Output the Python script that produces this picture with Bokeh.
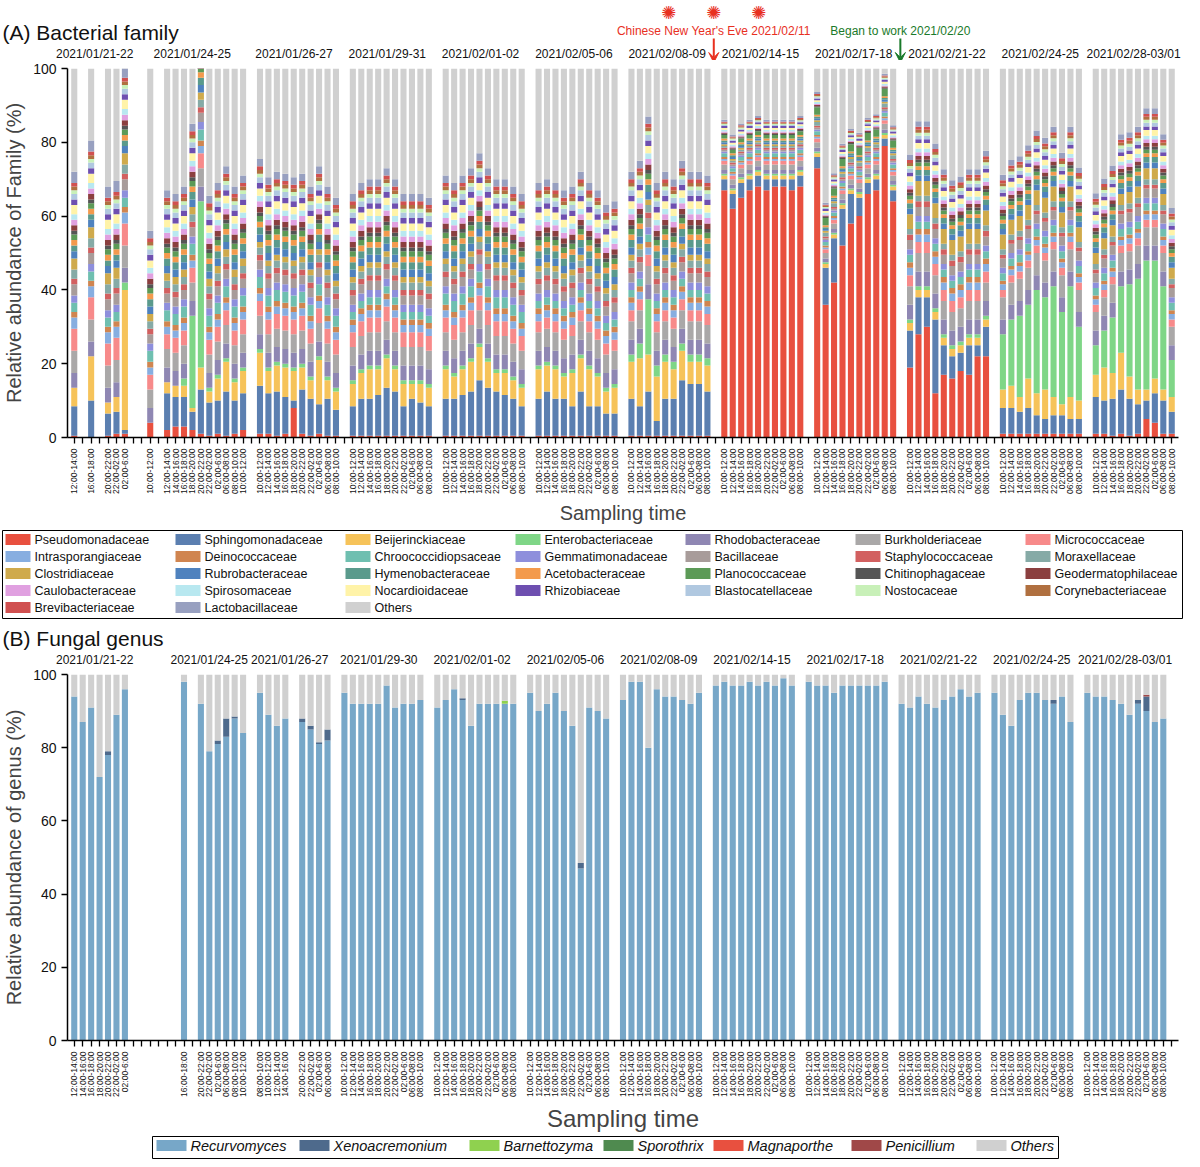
import math
from bokeh.plotting import figure
from bokeh.layouts import column, row
from bokeh.models import (ColumnDataSource, FixedTicker, Arrow, VeeHead, Range1d)
from bokeh.core.properties import value
from bokeh.embed import file_html
from bokeh.resources import INLINE

FONT = "Liberation Sans"

S10 = ["10:00-12:00", "12:00-14:00", "14:00-16:00", "16:00-18:00", "18:00-20:00",
       "20:00-22:00", "22:00-02:00", "02:00-6:00", "06:00-08:00", "08:00-10:00"]

# ---------------- Panel A: bacterial family ----------------
a_dates = ["2021/01/21-22", "2021/01/24-25", "2021/01/26-27", "2021/01/29-31", "2021/02/01-02",
           "2021/02/05-06", "2021/02/08-09", "2021/02/14-15", "2021/02/17-18", "2021/02/21-22",
           "2021/02/24-25", "2021/02/28-03/01"]
# slot labels per group, "" = empty slot (tick only)
a_slots = [["12:00-14:00", "", "16:00-18:00", "", "20:00-22:00", "22:00-02:00", "02:00-6:00", "", ""],
           ["10:00-12:00", ""] + S10[1:] + ["10:00-12:00"]] + [[""] + S10 for _ in range(10)]

pseudo = [[0.5, 0, 0.5, 1, 1],
          [4, 2, 3, 3, 2, 1, 0.5, 1, 0.5, 1, 2],
          [1, 1, 0.5, 1, 8, 1, 0.5, 1, 0.5, 0.5],
          [0.5, 0.5, 0.5, 0.5, 0.5, 0.5, 0.5, 0.5, 0.5, 0.5],
          [0.5, 0.5, 0.5, 0.5, 0.5, 0.5, 0.5, 0.5, 0.5, 0.5],
          [0.5, 0.5, 0.5, 0.5, 0.5, 0.5, 0.5, 0.5, 0.5, 0.5],
          [0.5, 0.5, 0.5, 0.5, 0.5, 0.5, 0.5, 0.5, 0.5, 0.5],
          [67, 62, 65, 67, 68, 67, 68, 68, 67, 68],
          [73, 36, 42, 52, 58, 60, 66, 67, 79, 64],
          [19, 28, 30, 12, 17, 16, 18, 17, 22, 22],
          [1, 1, 1, 1, 1, 1, 1, 1, 1, 1],
          [1, 1, 0.5, 1, 0.5, 1, 5, 4, 1, 1]]
sphingo = [[8, 10, 6, 6, 1],
           [0, 10, 8, 8, 5, 12, 9, 9, 12, 9, 10],
           [13, 11, 12, 10, 2, 12, 10, 8, 10, 7],
           [8, 10, 10, 11, 13, 12, 8, 10, 9, 8],
           [10, 10, 11, 12, 15, 13, 12, 11, 10, 8],
           [10, 12, 10, 10, 8, 12, 8, 8, 6, 6],
           [10, 8, 12, 4, 10, 10, 15, 14, 14, 12],
           [3, 4, 4, 3, 3, 3, 2, 2, 3, 3],
           [3, 10, 12, 10, 8, 5, 3, 3, 2, 3],
           [10, 10, 8, 20, 8, 6, 5, 8, 3, 8],
           [7, 7, 6, 7, 5, 4, 5, 5, 4, 4],
           [10, 9, 10, 12, 10, 8, 5, 8, 9, 6]]
beij = [[5, 12, 3, 4, 38],
        [0, 3, 3, 3, 1, 6, 3, 6, 8, 5, 6],
        [9, 6, 7, 8, 8, 6, 5, 12, 5, 5],
        [6, 7, 8, 7, 8, 6, 6, 4, 5, 5],
        [8, 6, 7, 8, 9, 7, 5, 6, 5, 5],
        [8, 7, 8, 6, 9, 9, 10, 8, 6, 7],
        [10, 13, 10, 12, 10, 8, 8, 6, 6, 7],
        [1, 1, 1, 1, 1, 1, 1, 1, 1, 1],
        [1, 1, 1, 1, 1, 1, 1, 1, 1, 1],
        [2, 2, 2, 2, 2, 2, 2, 2, 2, 2],
        [5, 6, 4, 8, 6, 8, 5, 3, 6, 5],
        [6, 9, 7, 10, 6, 4, 3, 4, 3, 4]]
entero = [[0, 0, 0, 0, 2],
          [0, 0, 0, 2, 25, 45, 1, 1, 1, 1, 1],
          [1, 1, 1, 1, 1, 1, 1, 1, 1, 1],
          [1, 1, 1, 1, 1, 1, 1, 1, 1, 1],
          [1, 1, 1, 1, 1, 1, 1, 1, 1, 1],
          [1, 1, 1, 1, 1, 1, 1, 1, 1, 1],
          [2, 4, 15, 3, 2, 2, 2, 2, 2, 2],
          [0.5, 0.5, 0.5, 0.5, 0.5, 0.5, 0.5, 0.5, 0.5, 0.5],
          [0.5, 0.5, 0.5, 0.5, 0.5, 0.5, 0.5, 0.5, 0.5, 0.5],
          [1, 1, 1, 1, 1, 1, 1, 1, 1, 1],
          [15, 18, 22, 20, 28, 25, 30, 25, 30, 20],
          [8, 10, 15, 18, 25, 30, 35, 32, 28, 10]]

main_names = ["Pseudomonadaceae", "Sphingomonadaceae", "Beijerinckiaceae", "Enterobacteriaceae"]
main_values = [pseudo, sphingo, beij, entero]

# minor families: one estimate per sampling group
minor_names = ["Rhodobacteraceae", "Burkholderiaceae", "Micrococcaceae", "Intrasporangiaceae",
               "Deinococcaceae", "Chroococcidiopsaceae", "Gemmatimonadaceae", "Bacillaceae",
               "Staphylococcaceae", "Moraxellaceae", "Clostridiaceae", "Rubrobacteraceae",
               "Hymenobacteraceae", "Acetobacteraceae", "Planococcaceae", "Chitinophagaceae",
               "Geodermatophilaceae", "Caulobacteraceae", "Spirosomaceae", "Nocardioidaceae",
               "Rhizobiaceae", "Blastocatellaceae", "Nostocaceae", "Corynebacteriaceae",
               "Brevibacteriaceae", "Lactobacillaceae"]
minor_values = [
    [4, 4, 4, 4, 4, 4, 4, 1, 1, 4, 4, 4],
    [6, 5, 5, 5, 5, 5, 5, 1.5, 1.5, 5, 6, 5],
    [6, 4, 4, 4, 4, 3, 3, 1, 1, 3, 2, 2],
    [3, 2, 2, 2, 2, 2, 2, 0.5, 0.5, 2, 1.5, 1.5],
    [1.5, 1.5, 1.5, 1.5, 1.5, 1.5, 1.5, 0.5, 0.5, 1.5, 1, 1],
    [2.5, 3, 3, 2, 3, 2, 2, 1, 1, 2, 2, 2],
    [2, 2, 2, 2, 2, 2, 2, 0.5, 0.5, 1.5, 1.5, 1.5],
    [3, 2.5, 2.5, 2.5, 2.5, 2.5, 2.5, 0.5, 0.5, 2.5, 2.5, 2.5],
    [1.5, 1.5, 1.5, 1.5, 1.5, 1.5, 1.5, 0.5, 0.5, 1.5, 1, 1],
    [2.5, 2, 2, 2, 2, 2, 2, 0.5, 1, 1.5, 1.5, 1.5],
    [3, 2, 1.5, 1.5, 1.5, 1.5, 1.5, 0.5, 0.5, 4, 4, 3],
    [2, 2, 2, 2, 2, 2, 2, 0.5, 0.5, 1.5, 1.5, 1.5],
    [1.5, 2, 2, 2, 2, 2, 2, 0.5, 0.5, 1.5, 1.5, 1.5],
    [1.5, 1.5, 1.5, 1.5, 1.5, 1.5, 1.5, 0.5, 0.5, 1, 1, 1],
    [1.5, 1.5, 1.5, 1.5, 1.5, 1.5, 1.5, 1, 2, 1, 1, 1],
    [1, 1, 1, 1, 1, 1, 1, 0.3, 0.3, 0.8, 0.8, 0.8],
    [1.5, 1.5, 1.5, 1.5, 1.5, 1.5, 1.5, 0.3, 0.3, 1, 1, 1],
    [1.5, 1.5, 1.5, 1.5, 1.5, 1.5, 1.5, 0.3, 0.3, 1, 1, 1],
    [1.5, 1.5, 1.5, 1.5, 1.5, 1.5, 1.5, 0.5, 0.5, 1, 1, 1],
    [2.5, 2, 2, 2, 2, 2, 2, 0.5, 0.5, 1.5, 1.5, 1.5],
    [1.5, 1.5, 1.5, 1.5, 1.5, 1.5, 1.5, 0.5, 0.5, 1, 1, 1],
    [1.5, 1.5, 1.5, 1.5, 1.5, 1.5, 1.5, 0.3, 0.3, 1, 1, 1],
    [1, 1, 1, 1, 1, 1, 1, 0.3, 0.3, 0.8, 0.8, 0.8],
    [1, 1, 1, 1, 1, 1, 1, 0.3, 0.3, 0.8, 0.8, 0.8],
    [1, 1, 1, 1, 1, 1, 1, 0.3, 0.3, 0.8, 0.8, 0.8],
    [3, 2, 2, 2, 2, 2, 2, 0.5, 0.5, 1.5, 1.5, 1.5]]

colors_a = {
    "Pseudomonadaceae": "#e8503f", "Sphingomonadaceae": "#5b7fb0", "Beijerinckiaceae": "#f6c35a",
    "Enterobacteriaceae": "#7fd687", "Rhodobacteraceae": "#8f87b3", "Burkholderiaceae": "#aaa8a8",
    "Micrococcaceae": "#f78a8a", "Intrasporangiaceae": "#87aee0", "Deinococcaceae": "#d08550",
    "Chroococcidiopsaceae": "#6fbfb0", "Gemmatimonadaceae": "#8e8fdc", "Bacillaceae": "#a89c9a",
    "Staphylococcaceae": "#d26060", "Moraxellaceae": "#86aaa6", "Clostridiaceae": "#cfaa4c",
    "Rubrobacteraceae": "#4f82be", "Hymenobacteraceae": "#5a9a8c", "Acetobacteraceae": "#f39a4d",
    "Planococcaceae": "#5c9a57", "Chitinophagaceae": "#555555", "Geodermatophilaceae": "#8b3f3f",
    "Caulobacteraceae": "#e0a0e0", "Spirosomaceae": "#b8e8f0", "Nocardioidaceae": "#fff3a8",
    "Rhizobiaceae": "#6e4fb0", "Blastocatellaceae": "#b0c8e0", "Nostocaceae": "#c8f0b8",
    "Corynebacteriaceae": "#b07040", "Brevibacteriaceae": "#d05050", "Lactobacillaceae": "#98a0c0",
    "Others": "#d0d0d0"}
legend_order_a = ["Pseudomonadaceae", "Sphingomonadaceae", "Beijerinckiaceae", "Enterobacteriaceae",
                  "Rhodobacteraceae", "Burkholderiaceae", "Micrococcaceae",
                  "Intrasporangiaceae", "Deinococcaceae", "Chroococcidiopsaceae", "Gemmatimonadaceae",
                  "Bacillaceae", "Staphylococcaceae", "Moraxellaceae",
                  "Clostridiaceae", "Rubrobacteraceae", "Hymenobacteraceae", "Acetobacteraceae",
                  "Planococcaceae", "Chitinophagaceae", "Geodermatophilaceae",
                  "Caulobacteraceae", "Spirosomaceae", "Nocardioidaceae", "Rhizobiaceae",
                  "Blastocatellaceae", "Nostocaceae", "Corynebacteriaceae",
                  "Brevibacteriaceae", "Lactobacillaceae", "Others"]

# ---------------- Panel B: fungal genus ----------------
b_dates = ["2021/01/21-22", "2021/01/24-25", "2021/01/26-27", "2021/01/29-30", "2021/02/01-02",
           "2021/02/05-06", "2021/02/08-09", "2021/02/14-15", "2021/02/17-18", "2021/02/21-22",
           "2021/02/24-25", "2021/02/28-03/01"]
b_slots = [["12:00-14:00", "14:00-16:00", "16:00-18:00", "18:00-20:00", "20:00-22:00",
            "22:00-02:00", "02:00-6:00", "", "", "", "", "", ""],
           ["16:00-18:00", "", "20:00-22:00", "22:00-02:00", "02:00-6:00", "06:00-08:00",
            "08:00-10:00", "10:00-12:00"],
           ["", "08:00-10:00", "10:00-12:00", "12:00-14:00", "14:00-16:00", "",
            "20:00-22:00", "22:00-02:00", "02:00-6:00", "06:00-08:00"]] + [[""] + S10 for _ in range(9)]

recurv = [[94, 87, 91, 72, 78, 89, 96],
          [98, 92, 79, 81, 83, 88, 84],
          [95, 89, 86, 88, 87, 85, 81, 82],
          [95, 92, 92, 92, 92, 97, 91, 92, 92, 93],
          [91, 93, 96, 93, 86, 92, 92, 92, 92, 92],
          [95, 90, 92, 95, 90, 86, 47, 91, 90, 88],
          [93, 98, 98, 80, 96, 94, 94, 93, 92, 95],
          [97, 98, 97, 97, 98, 97, 98, 97, 99, 97],
          [98, 97, 97, 95, 97, 97, 97, 97, 97, 98],
          [92, 91, 94, 92, 91, 93, 94, 96, 94, 95],
          [95, 89, 86, 93, 95, 95, 93, 92, 94, 87],
          [95, 94, 94, 93, 92, 89, 92, 90, 87, 88]]
xeno = [[0, 0, 0, 0, 1, 0, 0],
        [0, 0, 0, 1, 5, 0.5, 0],
        [0, 0, 0, 0, 1, 1, 0.5, 3],
        [0, 0, 0, 0, 0, 0, 0, 0, 0, 0],
        [0, 0, 0, 0.5, 0, 0, 0, 0, 0, 0],
        [0, 0, 0, 0, 0, 0, 1.5, 0, 0, 0],
        [0, 0, 0, 0, 0, 0, 0, 0, 0, 0],
        [0, 0, 0, 0, 0, 0, 0, 0, 0, 0],
        [0, 0, 0, 0, 0, 0, 0, 0, 0, 0],
        [0, 0, 0, 0, 0, 0, 0, 0, 0, 0],
        [0, 0, 0, 0, 0, 0, 0, 1, 0, 0],
        [0, 0, 0, 0, 0, 0, 1, 4, 0, 0]]
barnet = [[0] * 7, [0] * 7, [0] * 8, [0] * 10,
          [0, 0, 0, 0, 0, 0, 0, 0, 0.8, 0], [0] * 10, [0] * 10, [0] * 10,
          [0] * 10, [0] * 10, [0] * 10, [0] * 10]
penic = [[0] * 7, [0] * 7, [0] * 8, [0] * 10, [0] * 10, [0] * 10, [0] * 10, [0] * 10,
         [0] * 10, [0] * 10, [0] * 10, [0, 0, 0, 0, 0, 0, 0, 0.5, 0, 0]]
b_names = ["Recurvomyces", "Xenoacremonium", "Barnettozyma", "Sporothrix", "Magnaporthe",
           "Penicillium", "Others"]
b_colors = ["#77a7c8", "#4e6a8c", "#8fd14f", "#4f8a4f", "#e8503f", "#a04848", "#d0d0d0"]

W = 1184
LEFT = 62
RIGHT = 6


def layout_slots(slots):
    pos, labels, bar_x, centers = 0, {}, [], []
    for g in slots:
        xs = []
        for lab in g:
            labels[pos] = lab
            if lab:
                xs.append(pos)
            pos += 1
        bar_x.append(xs)
        centers.append((xs[0] + xs[-1]) / 2)
    return pos, labels, bar_x, centers


n_a, labs_a, barx_a, cen_a = layout_slots(a_slots)
n_b, labs_b, barx_b, cen_b = layout_slots(b_slots)
n_slots = max(n_a, n_b)
xr = Range1d(-0.8, n_slots - 0.2)


def to_px(x):
    # slot position -> pixel position inside a header strip of width W
    return LEFT + (x - xr.start) / (xr.end - xr.start) * (W - LEFT - RIGHT)


def make_fig(height, ylabel, labels, top):
    p = figure(width=W, height=height, output_backend="svg", toolbar_location=None,
               x_range=xr, y_range=Range1d(0, 100),
               min_border_top=top, min_border_right=RIGHT, min_border_left=LEFT, min_border_bottom=0)
    p.xaxis.ticker = FixedTicker(ticks=list(range(n_slots)))
    p.xaxis.major_label_overrides = {k: labels.get(k, "") for k in range(n_slots)}
    p.xaxis.major_label_orientation = math.pi / 2
    p.xaxis.major_label_text_font_size = "8.5px"
    p.xaxis.major_label_text_font = FONT
    p.yaxis.ticker = FixedTicker(ticks=[0, 20, 40, 60, 80, 100])
    p.yaxis.major_label_text_font_size = "14px"
    p.yaxis.major_label_text_font = FONT
    for ax in (p.xaxis, p.yaxis):
        ax.axis_line_width = 1.5
        ax.major_tick_line_width = 1.3
        ax.major_tick_out = 6
        ax.major_tick_in = 0
        ax.minor_tick_line_color = None
        ax.axis_label_text_font = FONT
        ax.axis_label_text_font_style = "normal"
        ax.axis_label_text_font_size = "20px"
        ax.axis_line_color = "black"
        ax.major_label_text_color = "#111111"
    p.xaxis.axis_label = "Sampling time"
    p.yaxis.axis_label = ylabel
    p.xgrid.grid_line_color = None
    p.ygrid.grid_line_color = None
    p.outline_line_color = None
    return p


def strip(height):
    s = figure(width=W, height=height, output_backend="svg", toolbar_location=None,
               x_range=Range1d(0, W), y_range=Range1d(0, height), min_border=0,
               x_axis_location=None, y_axis_location=None, outline_line_color=None)
    s.grid.visible = False
    return s


def make_header(height, title, title_y, centers, dates):
    h = strip(height)
    h.text(x=[2], y=[title_y], text=[title], text_font=value(FONT), text_font_size="21px",
           text_baseline="middle", text_color="#111111")
    h.text(x=[to_px(c) for c in centers], y=[7] * len(centers), text=dates, text_font=value(FONT),
           text_font_size="12px", text_align="center", text_baseline="middle", text_color="#111111")
    return h


def make_legend(names, colors, height, ncols, col_w, x0, font_size, italic, box, sw):
    lg = strip(height)
    xs, ys = [], []
    for i in range(len(names)):
        c, r = i % ncols, i // ncols
        xs.append(x0 + sum(col_w[:c]))
        ys.append(height - (box[1] + 9 + r * 17))
    lg.rect(x=[x + sw / 2 for x in xs], y=ys, width=sw, height=11, fill_color=colors, line_color=None)
    lg.text(x=[x + sw + 4 for x in xs], y=ys, text=names, text_font=value(FONT),
            text_font_size=font_size, text_baseline="middle",
            text_font_style="italic" if italic else "normal", text_color="#111111")
    lg.quad(left=[box[0]], right=[box[2]], top=[height - box[1]], bottom=[height - box[3]],
            fill_color=None, line_color="black", line_width=1)
    return lg


# ---- figure A ----
xs_a = [x for g in barx_a for x in g]
data_a = {"x": xs_a}
for name, vals in zip(main_names, main_values):
    data_a[name] = [v for g in vals for v in g]
for name, vals in zip(minor_names, minor_values):
    data_a[name] = [vals[gi] for gi, g in enumerate(barx_a) for _ in g]
fam_a = main_names + minor_names
data_a["Others"] = [max(0, 100 - sum(data_a[f][i] for f in fam_a)) for i in range(len(xs_a))]
stack_a = fam_a + ["Others"]

head_a = make_header(60, "(A) Bacterial family", 28, cen_a, a_dates)
x_cny = to_px(barx_a[7][0] - 1)
x_work = to_px(barx_a[9][0] - 1)
head_a.text(x=[x_cny, x_work], y=[30, 30],
            text=["Chinese New Year's Eve 2021/02/11", "Began to work 2021/02/20"],
            text_font=value(FONT), text_font_size="12px", text_align="center",
            text_baseline="middle", text_color=["#e8301f", "#1a7a2a"])
head_a.text(x=[x_cny - 45, x_cny, x_cny + 45], y=[48, 48, 48], text=["✺", "✺", "✺"],
            text_font=value("DejaVu Sans"), text_font_size="18px", text_align="center",
            text_baseline="middle", text_color="#e8301f")
for xa, col in ((x_cny, "#e8301f"), (x_work, "#1a7a2a")):
    head_a.add_layout(Arrow(x_start=xa, y_start=22, x_end=xa, y_end=-2, line_color=col,
                            line_width=2, end=VeeHead(size=10, fill_color=col, line_color=col)))

pa = make_fig(466, "Relative abundance of Family (%)", labs_a, 8)
pa.vbar_stack(stack_a, x="x", width=0.72, source=ColumnDataSource(data_a),
              color=[colors_a[n] for n in stack_a], line_color=None)

leg_a = make_legend(legend_order_a, [colors_a[n] for n in legend_order_a], 94, 7,
                    [170] * 7, 5, "12.5px", False, (2, 4, 1182, 92), 25)

# ---- figure B ----
xs_b = [x for g in barx_b for x in g]
data_b = {"x": xs_b,
          "Recurvomyces": [v for g in recurv for v in g],
          "Xenoacremonium": [v for g in xeno for v in g],
          "Barnettozyma": [v for g in barnet for v in g],
          "Sporothrix": [0] * len(xs_b),
          "Magnaporthe": [0] * len(xs_b),
          "Penicillium": [v for g in penic for v in g]}
data_b["Others"] = [100 - sum(data_b[n][i] for n in b_names[:-1]) for i in range(len(xs_b))]

head_b = make_header(46, "(B) Fungal genus", 28, cen_b, b_dates)
pb = make_fig(468, "Relative abundance of genus (%)", labs_b, 8)
pb.vbar_stack(b_names, x="x", width=0.72, source=ColumnDataSource(data_b),
              color=b_colors, line_color=None)
pb.xaxis.axis_label_text_font_size = "24px"

leg_b = make_legend(b_names, b_colors, 26, 7, [143, 170, 134, 110, 138, 125, 90], 156,
                    "14.5px", True, (152, 2, 1058, 24), 30)

# strips wrapped in rows so their frames are not aligned with the plot frames
page = column(row(head_a), pa, row(leg_a), row(head_b), pb, row(leg_b), spacing=0)
open("out.html", "w").write(file_html(page, INLINE))
